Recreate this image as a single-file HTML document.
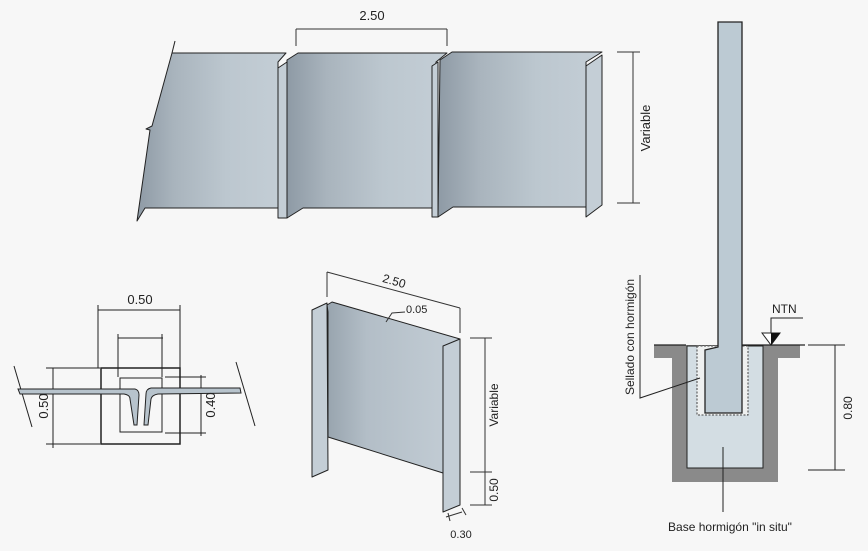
<!DOCTYPE html>
<html><head><meta charset="utf-8"><style>
html,body{margin:0;padding:0;background:#f7f7f7}
svg{display:block}
text{font-family:"Liberation Sans",sans-serif;fill:#222}
</style></head><body>
<svg width="868" height="551" viewBox="0 0 868 551" xmlns="http://www.w3.org/2000/svg">
<defs>
<linearGradient id="g" x1="0" x2="1" y1="0" y2="0">
<stop offset="0" stop-color="#8e9aa5"/><stop offset="0.25" stop-color="#a9b4bd"/><stop offset="0.6" stop-color="#bcc7cf"/><stop offset="1" stop-color="#c4ced6"/>
</linearGradient>
<linearGradient id="g2" x1="0" x2="1" y1="0" y2="0">
<stop offset="0" stop-color="#98a4ae"/><stop offset="0.3" stop-color="#b3bec7"/><stop offset="1" stop-color="#c4ced6"/>
</linearGradient>
</defs>
<rect width="868" height="551" fill="#f7f7f7"/>

<!-- TOP PANEL -->
<g stroke="#222" stroke-width="1" stroke-linejoin="round">
<polygon points="172,53 286,53 278,62 278,208 145,208 137,221 150,130 146,129 152,126" fill="url(#g)"/>
<polygon points="287,60 298,53 447,53 436,62 432,208 303,208 287,218" fill="url(#g)"/>
<polygon points="440,60 452,52 602,52 586,62 586,207 453,207 438,217" fill="url(#g)"/>
<polygon points="278,68 287,62 287,218 278,218" fill="#c4ced6"/>
<polygon points="432,66 438,62 438,217 432,217" fill="#c4ced6"/>
<polygon points="586,66 602,55 602,205 586,217" fill="#c4ced6"/>
<line x1="172" y1="53" x2="175" y2="41"/>
</g>
<g stroke="#333" stroke-width="1" fill="none">
<line x1="296" y1="29" x2="447" y2="29"/><line x1="296" y1="29" x2="296" y2="46"/><line x1="447" y1="29" x2="447" y2="46"/>
<line x1="633" y1="52" x2="633" y2="203"/><line x1="617" y1="52" x2="640" y2="52"/><line x1="617" y1="203" x2="640" y2="203"/>
</g>
<text x="372" y="20" font-size="13" text-anchor="middle">2.50</text>
<text transform="translate(650,128) rotate(-90)" font-size="13" text-anchor="middle">Variable</text>

<!-- BOTTOM LEFT SECTION -->
<g stroke="#222" fill="none" stroke-width="1">
<line x1="98" y1="310" x2="180" y2="310"/><line x1="98" y1="305" x2="98" y2="368"/><line x1="180" y1="305" x2="180" y2="368"/>
<line x1="118" y1="338" x2="163" y2="338"/><line x1="118" y1="334" x2="118" y2="377"/><line x1="162" y1="334" x2="162" y2="377"/>
<line x1="53" y1="368" x2="53" y2="448"/><line x1="46" y1="368" x2="100" y2="368"/><line x1="46" y1="444" x2="100" y2="444"/>
<line x1="201" y1="375" x2="201" y2="436"/><line x1="165" y1="377" x2="206" y2="377"/><line x1="165" y1="433" x2="206" y2="433"/>
<line x1="14" y1="366" x2="32" y2="427"/><line x1="236" y1="362" x2="255" y2="426"/>
<rect x="101" y="368" width="79" height="76" stroke-width="1.5"/>
<rect x="120" y="378" width="42" height="54"/>
<path d="M18,389 L135,389 Q139,390 139,395 L137,425 L134,425 L130,399 Q130,395 124,394 L20,394 Z" fill="#b7c3cc"/>
<path d="M240,388 L151,388 Q146,389 146,394 L144,425 L148,425 L151,399 Q152,395 158,394 L241,393 Z" fill="#b7c3cc"/>
</g>
<text x="140" y="304" font-size="13" text-anchor="middle">0.50</text>
<text transform="translate(48,406) rotate(-90)" font-size="13" text-anchor="middle">0.50</text>
<text transform="translate(215,405) rotate(-90)" font-size="13" text-anchor="middle">0.40</text>

<!-- MIDDLE PANEL -->
<g stroke="#222" stroke-width="1" stroke-linejoin="round">
<polygon points="327,305 332,302 460,339 445,346 443,473 328,437 328,312" fill="url(#g2)"/>
<polygon points="312,310 327,303 328,470 312,477" fill="#c4ced6"/>
<polygon points="443,346 460,339 460,505 443,512" fill="#c4ced6"/>
</g>
<g stroke="#333" fill="none" stroke-width="1">
<line x1="327" y1="272" x2="460" y2="308"/><line x1="327" y1="272" x2="327" y2="297"/><line x1="460" y1="308" x2="460" y2="333"/>
<polyline points="386,322 392,313 405,312"/>
<line x1="485" y1="338" x2="485" y2="505"/><line x1="470" y1="338" x2="492" y2="338"/><line x1="470" y1="472" x2="492" y2="472"/><line x1="470" y1="505" x2="492" y2="505"/>
<line x1="446" y1="517" x2="462" y2="512"/><line x1="450" y1="521" x2="448" y2="513"/><line x1="466" y1="515" x2="462" y2="508"/>
</g>
<text transform="translate(393,285) rotate(16)" font-size="12" text-anchor="middle">2.50</text>
<text x="406" y="313" font-size="11">0.05</text>
<text transform="translate(498,405) rotate(-90)" font-size="12" text-anchor="middle">Variable</text>
<text transform="translate(498,490) rotate(-90)" font-size="12" text-anchor="middle">0.50</text>
<text x="461" y="538" font-size="11" text-anchor="middle">0.30</text>

<!-- RIGHT FOUNDATION -->
<path d="M654,345 L800,345 L800,358 L778,358 L778,482 L672,482 L672,358 L654,358 Z" fill="#8a8a8a"/>
<rect x="687" y="346" width="76" height="122" fill="#d3dde3" stroke="#222"/>
<rect x="697" y="346" width="51" height="69" fill="#eef0f0" stroke="#444" stroke-dasharray="2,1.5"/>
<path d="M718,22 L742,22 L742,413 L705,413 L705,350 L718,347 Z" fill="#bccad3" stroke="#222" stroke-width="1.3"/>
<line x1="654" y1="345" x2="686" y2="345" stroke="#222" stroke-width="1.3"/>
<line x1="742" y1="345" x2="805" y2="345" stroke="#222" stroke-width="1.3"/>
<polygon points="762,333 780,333 771,345" fill="#fff" stroke="#222"/>
<polygon points="771,333 780,333 771,345" fill="#111"/>
<polyline points="771,333 771,318 803,318" fill="none" stroke="#222"/>
<text x="772" y="313" font-size="12">NTN</text>
<g stroke="#222" fill="none">
<line x1="835" y1="345" x2="835" y2="470"/><line x1="808" y1="345" x2="845" y2="345"/><line x1="808" y1="470" x2="845" y2="470"/>
<polyline points="640,275 640,398 700,378"/>
<line x1="723" y1="447" x2="723" y2="512"/>
</g>
<text transform="translate(852,408) rotate(-90)" font-size="12" text-anchor="middle">0.80</text>
<text transform="translate(634,337) rotate(-90)" font-size="12" text-anchor="middle">Sellado con hormigón</text>
<text x="730" y="531" font-size="12" text-anchor="middle">Base hormigón "in situ"</text>
</svg>
</body></html>
